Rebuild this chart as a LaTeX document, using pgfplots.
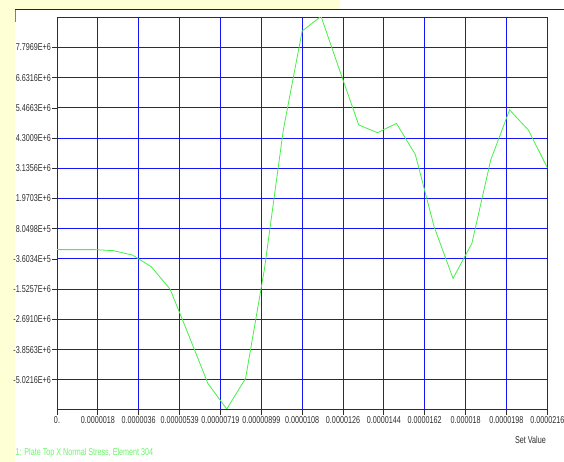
\documentclass[border=0pt]{standalone}
\usepackage{fontspec}
\setmainfont[FakeStretch=0.72]{Liberation Sans}
\usepackage{pgfplots}
\pgfplotsset{compat=1.18}
\definecolor{plotgreen}{RGB}{70,240,70}
\definecolor{legendgreen}{RGB}{110,245,110}
\definecolor{gridblue}{RGB}{20,20,245}
\definecolor{bgyellow}{RGB}{255,255,214}
\definecolor{labelgray}{RGB}{45,45,45}

\begin{document}
\begin{tikzpicture}
  % background and white panel
  \path[use as bounding box] (0pt,0pt) rectangle (564pt,462pt);
  \fill[bgyellow] (0pt,0pt) rectangle (564pt,462pt);
  \fill[white] (340pt,452pt) rectangle (564pt,462pt);
  \fill[white] (15pt,0pt) rectangle (564pt,452pt);
  \draw[black!85, line width=1pt] (15pt,452.5pt) -- (564pt,452.5pt);
  \draw[gray, line width=0.8pt] (15.4pt,452pt) -- (15.4pt,440pt);

  \begin{axis}[
      at={(57pt,52pt)}, anchor=south west,
      scale only axis,
      width=490.3pt, height=392.7pt,
      xmin=0, xmax=2.157e-5,
      ymin=-6.1869e6, ymax=8.9622e6,
      xtick={0,1.7975e-6,3.595e-6,5.3925e-6,7.19e-6,8.9875e-6,1.0785e-5,1.25825e-5,1.438e-5,1.61775e-5,1.7975e-5,1.97725e-5,2.157e-5},
      xticklabels={0.,0.0000018,0.0000036,0.00000539,0.00000719,0.00000899,0.0000108,0.0000126,0.0000144,0.0000162,0.000018,0.0000198,0.0000216},
      ytick={-5.0216e6,-3.8563e6,-2.6910e6,-1.5257e6,-0.36034e6,0.80498e6,1.9703e6,3.1356e6,4.3009e6,5.4663e6,6.6316e6,7.7969e6},
      yticklabels={-5.0216E+6,-3.8563E+6,-2.6910E+6,-1.5257E+6,-3.6034E+5,8.0498E+5,1.9703E+6,3.1356E+6,4.3009E+6,5.4663E+6,6.6316E+6,7.7969E+6},
      scaled ticks=false,
      tick pos=left,
      tick align=outside,
      major tick length=5pt,
      major tick style={draw=labelgray, line width=0.8pt},
      grid=major,
      major grid style={draw=gridblue, line width=1pt},
      axis line style={draw=gridblue, line width=1pt},
      tick label style={font=\fontsize{10}{11}\selectfont, text=labelgray},
      xticklabel style={inner sep=1.5pt},
      yticklabel style={inner sep=1pt},
    ]
    \addplot[plotgreen, line width=0.8pt] table {
      x          y
      0          0
      8.296e-7   0
      1.6592e-6  0
      2.4889e-6  -0.04e6
      3.3185e-6  -0.21e6
      4.1481e-6  -0.66e6
      4.9777e-6  -1.53e6
      5.8073e-6  -3.33e6
      6.6370e-6  -5.16e6
      7.4666e-6  -6.15e6
      8.2962e-6  -4.97e6
      9.1258e-6  -0.75e6
      9.9554e-6  4.61e6
      1.07851e-5 8.43e6
      1.16147e-5 9.00e6
      1.24443e-5 6.89e6
      1.32739e-5 4.81e6
      1.41035e-5 4.51e6
      1.49332e-5 4.87e6
      1.57628e-5 3.67e6
      1.65924e-5 0.88e6
      1.74220e-5 -1.11e6
      1.82516e-5 0.24e6
      1.90813e-5 3.46e6
      1.99109e-5 5.39e6
      2.07405e-5 4.61e6
      2.15701e-5 3.16e6
    };
    \draw[labelgray, line width=1pt] (rel axis cs:0,0) -- (rel axis cs:1,0);
  \end{axis}

  \node[anchor=east, inner sep=0pt, text=labelgray, font=\fontsize{10}{11}\selectfont] at (546pt,22pt) {Set Value};
  \node[anchor=west, inner sep=0pt, text=legendgreen, font=\fontsize{10}{11}\selectfont] at (15.5pt,9pt) {1: Plate Top X Normal Stress, Element 304};
\end{tikzpicture}
\end{document}
